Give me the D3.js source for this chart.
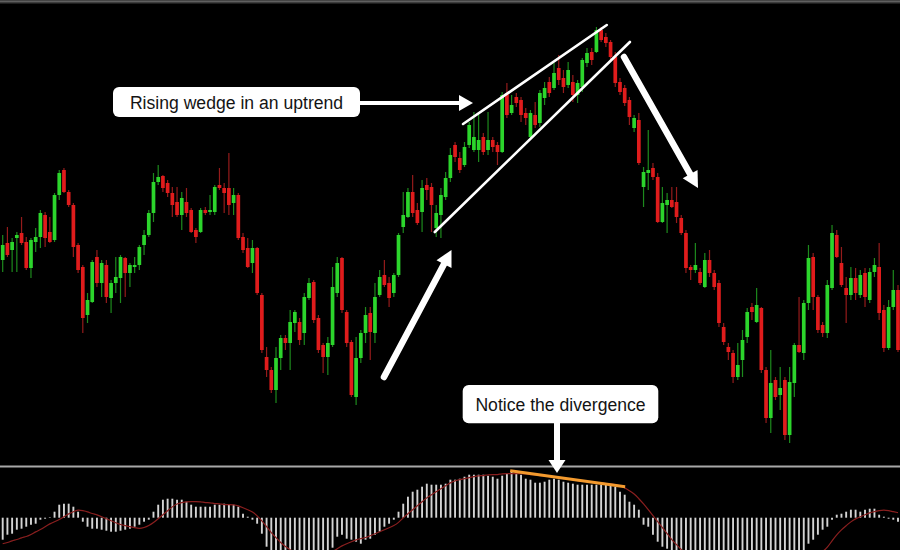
<!DOCTYPE html>
<html><head><meta charset="utf-8">
<script src="https://cdn.jsdelivr.net/npm/d3@7"></script>
<style>html,body{margin:0;padding:0;background:#000;overflow:hidden}</style>
</head><body>
<svg id="chart" width="900" height="550"></svg>
<script>
// Price data (pips, higher = higher price), one entry per candle
const open=[240,257,250,262,267,258,232,258,263,285,
268,260,305,330,308,295,255,233,185,198,
243,217,235,202,217,222,242,227,233,235,
255,265,287,318,324,317,307,298,285,298,
290,270,268,290,288,288,315,312,312,297,
305,263,252,237,252,205,143,130,110,142,
162,157,177,178,167,202,218,182,155,143,
155,207,242,188,158,103,142,167,187,167,
205,225,217,207,225,273,283,308,290,288,
315,313,272,285,303,322,355,342,335,355,
350,350,363,350,360,355,348,407,387,403,
400,387,363,385,377,402,418,412,432,422,
415,418,405,413,437,448,448,470,463,458,
443,418,412,400,372,380,313,327,332,323,
278,295,300,298,282,267,233,230,228,213,
240,227,217,173,153,147,123,140,163,193,
178,192,130,82,120,105,120,65,117,155,
147,197,243,203,175,167,212,265,237,212,
205,222,205,227,200,228,233,190,152,193,210];
const close=[255,245,258,265,257,232,260,263,287,262,
258,305,327,308,295,253,230,182,200,238,
217,237,203,217,223,243,227,235,235,253,
265,287,318,323,312,307,295,285,302,287,
268,263,290,287,290,313,312,307,295,305,
262,250,233,252,207,150,130,110,142,162,
157,178,188,160,203,217,180,150,143,157,
213,237,190,157,105,142,167,185,168,203,
223,215,202,225,265,285,308,287,277,312,
310,295,287,305,322,345,343,330,353,375,
363,360,348,360,353,348,405,385,395,397,
385,382,387,375,407,412,407,427,420,413,
430,405,417,440,447,440,470,460,457,443,
417,408,397,383,382,337,328,330,323,278,
297,300,293,283,267,232,230,235,217,240,
227,213,177,158,148,123,135,160,188,188,
195,130,82,117,103,112,65,118,155,148,
197,242,203,170,167,215,267,243,215,205,
222,207,225,203,228,235,187,152,193,210,150];
const high=[265,273,262,268,283,263,262,272,290,288,
283,307,330,332,310,297,257,235,207,240,
250,240,240,220,243,245,243,237,243,255,
270,290,327,335,325,320,313,313,308,312,
292,272,292,293,305,315,332,317,347,312,
307,267,262,260,253,207,153,133,153,165,
165,190,190,182,207,222,220,185,157,163,
233,243,243,190,160,163,170,193,193,217,
230,240,223,227,267,308,312,325,297,320,
322,317,295,312,328,352,358,348,358,378,
388,388,367,388,363,358,408,417,405,407,
403,392,390,398,410,418,423,437,445,430,
438,425,420,442,452,452,473,473,467,460,
448,422,415,403,385,387,333,370,337,327,
313,307,313,313,285,270,235,257,232,247,
250,230,220,177,157,150,157,170,192,197,
212,193,133,150,123,133,123,133,157,203,
200,255,247,205,178,220,275,270,253,223,
233,232,230,232,232,242,257,195,200,230,215];
const low=[228,243,228,228,255,230,222,248,252,253,
257,258,300,307,293,243,227,167,177,197,
213,203,197,187,207,197,203,213,227,230,
245,263,278,315,308,303,283,283,270,283,
267,257,267,285,285,285,310,287,285,285,
260,247,232,227,205,147,123,107,97,130,
150,130,168,155,155,200,177,147,127,125,
153,203,187,153,103,95,137,157,140,157,
203,213,193,203,223,267,282,283,275,268,
300,268,263,262,300,318,338,327,333,352,
348,338,345,345,348,335,347,382,385,393,
378,375,360,372,373,395,403,410,415,407,
412,398,397,408,433,435,447,458,453,440,
413,405,394,375,368,335,293,310,320,277,
277,267,292,277,265,227,220,227,215,212,
223,210,173,155,140,117,120,123,157,180,
177,127,77,67,100,90,60,57,103,147,
140,190,190,167,163,162,210,242,213,177,
200,200,202,193,197,223,180,148,150,190,148];
// MACD histogram and signal line (oscillator points)
const macd=[-22,-17,-16,-12,-11,-9,-7,-6,-2,-1,
0.5,6,13,14,14,11,6,-4,-9,-11,
-11,-12,-13,-14,-14,-13,-12,-11,-9,-7,
-4,-2,6,13,18,19,19,18,18,16,
13,11,11,11,11,13,13,14,13,13,
11,4,1,-2,-6,-16,-29,-34,-36,-38,
-39,-40,-40,-41,-40,-39,-38,-37,-36,-35,
-30,-19,-17,-21,-22,-24,-26,-22,-21,-17,
-14,-9,-6,-2,6,14,21,26,28,31,
34,33,33,33,34,38,38,39,41,43,
43,43,43,42,41,39,42,44,47,45,
43,39,38,35,35,36,38,39,38,36,
35,34,33,33,33,33,33,33,33,32,
31,26,23,16,13,8,-7,-9,-17,-24,
-29,-31,-34,-36,-38,-40,-42,-43,-44,-45,
-45,-46,-46,-46,-45,-45,-44,-43,-42,-41,
-40,-40,-39,-38,-38,-37,-36,-35,-35,-34,
-33,-26,-22,-17,-12,-9,-2,3,4,6,
8,8,6,8,9,9,3,1,-1,-2,-4];
const signal=[-26,-25,-23,-22,-20,-19,-17,-14,-12,-9,
-6,-4,-2,1,4,6,8,7,6,4,
3,1,-1,-3,-5,-7,-8,-9,-10,-11,
-10,-8,-5,-1,3,7,11,14,15,16,
16,16,16,15,15,14,14,13,13,13,
12,10,8,6,2,-3,-9,-15,-20,-25,
-29,-32,-35,-37,-39,-40,-40,-39,-38,-36,
-34,-31,-28,-26,-24,-22,-21,-20,-18,-16,
-14,-12,-10,-8,-5,0,4,8,12,16,
20,23,26,29,32,35,37,38,39,40,
41,42,42,43,43,43,44,44,44,44,
44,44,43,43,42,42,41,41,40,39,
39,38,37,37,36,36,35,35,34,34,
33,32,30,27,24,19,14,8,2,-4,
-10,-16,-22,-27,-32,-36,-39,-42,-44,-46,
-47,-48,-48,-48,-48,-47,-46,-45,-44,-43,
-42,-41,-40,-39,-38,-37,-36,-36,-37,-37,
-37,-37,-36,-36,-34,-30,-23,-17,-12,-8,
-4,-1,1,3,5,6,7,8,7,6,5];
// Annotation anchors in data space: [candle index, value]
const wedgeUpper=[[97.7,376],[128.2,475]];
const wedgeLower=[[91.7,268],[133.1,458]];
const divergenceLine=[[107.7,47],[132.1,31]];
const labelWedge="Rising wedge in an uptrend";
const labelDiv="Notice the divergence";

const W=900,H=550,n=open.length;
const svg=d3.select('#chart');
svg.append('rect').attr('width',W).attr('height',H).attr('fill','#000');
const x=d3.scaleLinear().domain([0,n-1]).range([2.7,898]);
const y=d3.scaleLinear().domain([60,470]).range([440,30]);
const ym=d3.scaleLinear().domain([-40,50]).range([557.7,467.7]);

const defs=svg.append('defs');
defs.append('clipPath').attr('id','cp').append('rect').attr('x',0).attr('y',3).attr('width',W).attr('height',462);
defs.append('clipPath').attr('id','cm').append('rect').attr('x',0).attr('y',468).attr('width',W).attr('height',H-468);

// top border
svg.append('rect').attr('x',0).attr('y',0).attr('width',W).attr('height',3.5).attr('fill','#3c3c3c');
svg.append('line').attr('x1',0).attr('x2',W).attr('y1',1.3).attr('y2',1.3).attr('stroke','#6a6a6a').attr('stroke-width',1);

// candles
const pg=svg.append('g').attr('clip-path','url(#cp)');
const idx=d3.range(n);
const up=i=>close[i]>=open[i];
pg.selectAll('line.wick').data(idx).join('line').attr('class','wick')
  .attr('x1',i=>x(i)).attr('x2',i=>x(i))
  .attr('y1',i=>y(high[i])).attr('y2',i=>y(low[i]))
  .attr('stroke',i=>up(i)?'#1d8a1d':'#951b1b').attr('stroke-width',1.2);
pg.selectAll('rect.body').data(idx).join('rect').attr('class','body')
  .attr('x',i=>x(i)-1.85).attr('width',3.7)
  .attr('y',i=>y(Math.max(open[i],close[i])))
  .attr('height',i=>Math.max(1.2,Math.abs(y(open[i])-y(close[i]))))
  .attr('fill',i=>up(i)?'#2cd52c':'#e01c1c');

// wedge lines
const lineGen=d3.line().x(d=>x(d[0])).y(d=>y(d[1]));
[wedgeUpper,wedgeLower].forEach(l=>{
  pg.append('path').attr('d',lineGen(l)).attr('stroke','#fff').attr('stroke-width',2.6).attr('fill','none').attr('stroke-linecap','round');
});

// separator
svg.append('line').attr('x1',0).attr('x2',W).attr('y1',466.5).attr('y2',466.5).attr('stroke','#a8a8a8').attr('stroke-width',2);

// MACD panel
const mg=svg.append('g').attr('clip-path','url(#cm)');
mg.selectAll('line.hist').data(idx).join('line').attr('class','hist')
  .attr('x1',i=>x(i)).attr('x2',i=>x(i))
  .attr('y1',ym(0)).attr('y2',i=>ym(macd[i]))
  .attr('stroke','#d4d4d4').attr('stroke-width',1.9);
mg.append('path').datum(idx)
  .attr('d',d3.line().x(i=>x(i)).y(i=>ym(signal[i])).curve(d3.curveBasis))
  .attr('fill','none').attr('stroke','#8a1f1f').attr('stroke-width',1.2);
mg.append('path').attr('d',d3.line().x(d=>x(d[0])).y(d=>ym(d[1]))(divergenceLine))
  .attr('stroke','#f39a2e').attr('stroke-width',3).attr('fill','none');

// arrows
const ag=svg.append('g');
function arrow(x1,y1,x2,y2,sw,hl,hw,cap){
  const dx=x2-x1,dy=y2-y1,L=Math.hypot(dx,dy),ux=dx/L,uy=dy/L;
  const bx=x2-ux*hl,by=y2-uy*hl,px=-uy,py=ux;
  ag.append('line').attr('x1',x1).attr('y1',y1).attr('x2',bx+ux).attr('y2',by+uy)
    .attr('stroke','#fff').attr('stroke-width',sw).attr('stroke-linecap',cap||'round');
  ag.append('path').attr('d',`M${x2},${y2}L${bx+px*hw/2},${by+py*hw/2}L${bx-px*hw/2},${by-py*hw/2}Z`).attr('fill','#fff');
}
arrow(356,103,473,103,4,14,16,'butt');
arrow(557,420,557,473,6,13,17,'butt');
arrow(384,377,451.5,250,6.5,16,17);
arrow(624,57,698,188,6.5,16,17);

// labels
function label(bx,by,bw,bh,text,baseline){
  ag.append('rect').attr('x',bx).attr('y',by).attr('width',bw).attr('height',bh).attr('rx',6).attr('fill','#fff');
  ag.append('text').attr('x',bx+bw/2).attr('y',baseline).attr('text-anchor','middle')
    .attr('font-family','Liberation Sans, Arial, sans-serif').attr('font-size',17.6).attr('fill','#141414').text(text);
}
label(113,87,247,30,labelWedge,108.5);
label(462.7,385,195.6,38.3,labelDiv,410.5);
</script>
</body></html>
